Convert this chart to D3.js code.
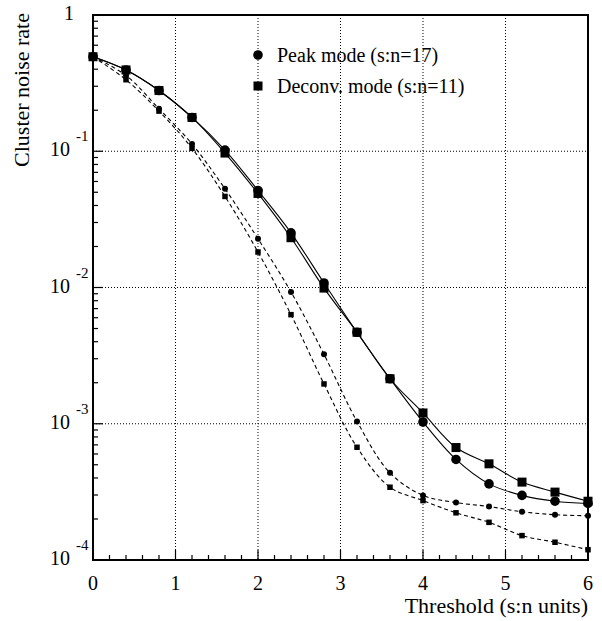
<!DOCTYPE html>
<html>
<head>
<meta charset="utf-8">
<script src="https://cdn.jsdelivr.net/npm/d3@7"></script>
<style>
  body { margin: 0; background: #fff; }
  svg text { font-family: "Liberation Serif", "DejaVu Serif", serif; fill: #000; }
</style>
</head>
<body>
<div id="chart"></div>
<script>
// thresholds (s:n units)
const thresholds = [0, 0.4, 0.8, 1.2, 1.6, 2.0, 2.4, 2.8, 3.2, 3.6, 4.0, 4.4, 4.8, 5.2, 5.6, 6.0]

// solid curves, big markers
const peakMode   = [0.494, 0.395, 0.279, 0.177, 0.102, 0.0515, 0.0252, 0.0108, 0.00469, 0.00214, 0.00103, 0.000547, 0.000362, 0.000298, 0.000270, 0.000260]
const deconvMode = [0.494, 0.395, 0.279, 0.177, 0.097, 0.0490, 0.0232, 0.0099, 0.00469, 0.00214, 0.00120, 0.000669, 0.000508, 0.000373, 0.000315, 0.000270]

// dashed curves, small markers
const peakModeB   = [0.494, 0.360, 0.205, 0.113, 0.0530, 0.0228, 0.00927, 0.00323, 0.00104, 0.000436, 0.000298, 0.000264, 0.000247, 0.000226, 0.000215, 0.000211]
const deconvModeB = [0.494, 0.335, 0.197, 0.105, 0.0466, 0.0182, 0.00632, 0.00196, 0.000672, 0.000342, 0.000273, 0.000222, 0.000189, 0.000151, 0.000135, 0.000119]

const legendLabels = ['Peak mode (s:n=17)', 'Deconv. mode (s:n=11)']
const xTicks = [0, 1, 2, 3, 4, 5, 6]
const yDecades = [0, -1, -2, -3, -4]

const W = 602,
      H = 621,
      pL = 93,
      pR = 588,
      pT = 15,
      pB = 560

const svg = d3.select('#chart').append('svg')
  .attr('width', W)
  .attr('height', H)

const x = d3.scaleLinear().domain([0, 6]).range([pL, pR])
const y = d3.scaleLog().domain([1e-4, 1]).range([pB, pT])

// grid
const grid = svg.append('g')
  .attr('stroke', '#000')
  .attr('stroke-width', 1)
  .attr('stroke-dasharray', '1,2')
grid.selectAll('line.gx')
  .data(xTicks.slice(1, -1))
  .enter().append('line')
    .attr('x1', d => x(d)).attr('x2', d => x(d))
    .attr('y1', pT).attr('y2', pB)
grid.selectAll('line.gy')
  .data(yDecades.slice(1, -1))
  .enter().append('line')
    .attr('x1', pL).attr('x2', pR)
    .attr('y1', d => y(Math.pow(10, d))).attr('y2', d => y(Math.pow(10, d)))

// ticks
const ticks = svg.append('g').attr('stroke', '#000').attr('stroke-width', 1.2)
const xMinor = d3.range(0, 6.01, 0.2).map(d => Math.round(d * 10) / 10)
ticks.selectAll('line.tx')
  .data(xMinor)
  .enter().append('line')
    .attr('x1', d => x(d)).attr('x2', d => x(d))
    .attr('y1', pB)
    .attr('y2', d => pB - (Math.abs(d - Math.round(d)) < 1e-6 ? 10 : 5))
const yMinor = []
for (let e = -4; e < 0; e++) {
  for (let m = 2; m <= 9; m++) yMinor.push(m * Math.pow(10, e))
}
ticks.selectAll('line.ty')
  .data(yMinor)
  .enter().append('line')
    .attr('x1', pL).attr('x2', pL + 5)
    .attr('y1', d => y(d)).attr('y2', d => y(d))
ticks.selectAll('line.tyM')
  .data(yDecades)
  .enter().append('line')
    .attr('x1', pL).attr('x2', pL + 10)
    .attr('y1', d => y(Math.pow(10, d))).attr('y2', d => y(Math.pow(10, d)))

// curves
const line = d3.line()
  .x(d => x(d[0]))
  .y(d => y(d[1]))
  .curve(d3.curveCatmullRom.alpha(0.5))

const series = [
  { values: peakModeB,   dash: '4,3', marker: 'circle', size: 3 },
  { values: deconvModeB, dash: '4,3', marker: 'square', size: 5.5 },
  { values: peakMode,    dash: null,  marker: 'circle', size: 4.8 },
  { values: deconvMode,  dash: null,  marker: 'square', size: 9 }
]

const plot = svg.append('g')
series.forEach(s => {
  const pts = thresholds.map((t, i) => [t, s.values[i]])
  plot.append('path')
    .attr('d', line(pts))
    .attr('fill', 'none')
    .attr('stroke', '#000')
    .attr('stroke-width', 1.1)
    .attr('stroke-dasharray', s.dash)
})
series.forEach(s => {
  const pts = thresholds.map((t, i) => [t, s.values[i]])
  if (s.marker === 'circle') {
    plot.selectAll(null).data(pts).enter().append('circle')
      .attr('cx', d => x(d[0])).attr('cy', d => y(d[1]))
      .attr('r', s.size)
      .attr('fill', '#000')
  } else {
    plot.selectAll(null).data(pts).enter().append('rect')
      .attr('x', d => x(d[0]) - s.size / 2).attr('y', d => y(d[1]) - s.size / 2)
      .attr('width', s.size).attr('height', s.size)
      .attr('fill', '#000')
  }
})

// frame
svg.append('rect')
  .attr('x', pL).attr('y', pT)
  .attr('width', pR - pL).attr('height', pB - pT)
  .attr('fill', 'none')
  .attr('stroke', '#000')
  .attr('stroke-width', 2)

// x tick labels
svg.selectAll('text.xl')
  .data(xTicks)
  .enter().append('text')
    .attr('x', d => x(d))
    .attr('y', 590)
    .attr('text-anchor', 'middle')
    .attr('font-size', 20)
    .text(d => d)

// y tick labels
yDecades.forEach(e => {
  const yy = y(Math.pow(10, e))
  if (e === 0) {
    svg.append('text')
      .attr('x', 74).attr('y', yy + 5)
      .attr('text-anchor', 'end')
      .attr('font-size', 20)
      .text('1')
  } else {
    svg.append('text')
      .attr('x', 70).attr('y', yy + 5)
      .attr('text-anchor', 'end')
      .attr('font-size', 20)
      .text('10')
    svg.append('text')
      .attr('x', 76).attr('y', yy - 10)
      .attr('font-size', 15)
      .text(String(e))
  }
})

// axis titles
svg.append('text')
  .attr('x', pR).attr('y', 613)
  .attr('text-anchor', 'end')
  .attr('font-size', 22)
  .text('Threshold (s:n units)')
svg.append('text')
  .attr('transform', `translate(29, ${pT - 2}) rotate(-90)`)
  .attr('text-anchor', 'end')
  .attr('font-size', 22)
  .text('Cluster noise rate')

// legend
const legend = svg.append('g')
legendLabels.forEach((label, i) => {
  const ly = 55 + i * 31
  if (i === 0) {
    legend.append('circle').attr('cx', 258).attr('cy', ly).attr('r', 4.8).attr('fill', '#000')
  } else {
    legend.append('rect').attr('x', 258 - 4.5).attr('y', ly - 4.5).attr('width', 9).attr('height', 9).attr('fill', '#000')
  }
  legend.append('text')
    .attr('x', 277).attr('y', ly + 7)
    .attr('font-size', 20)
    .text(label)
})
</script>
</body>
</html>
